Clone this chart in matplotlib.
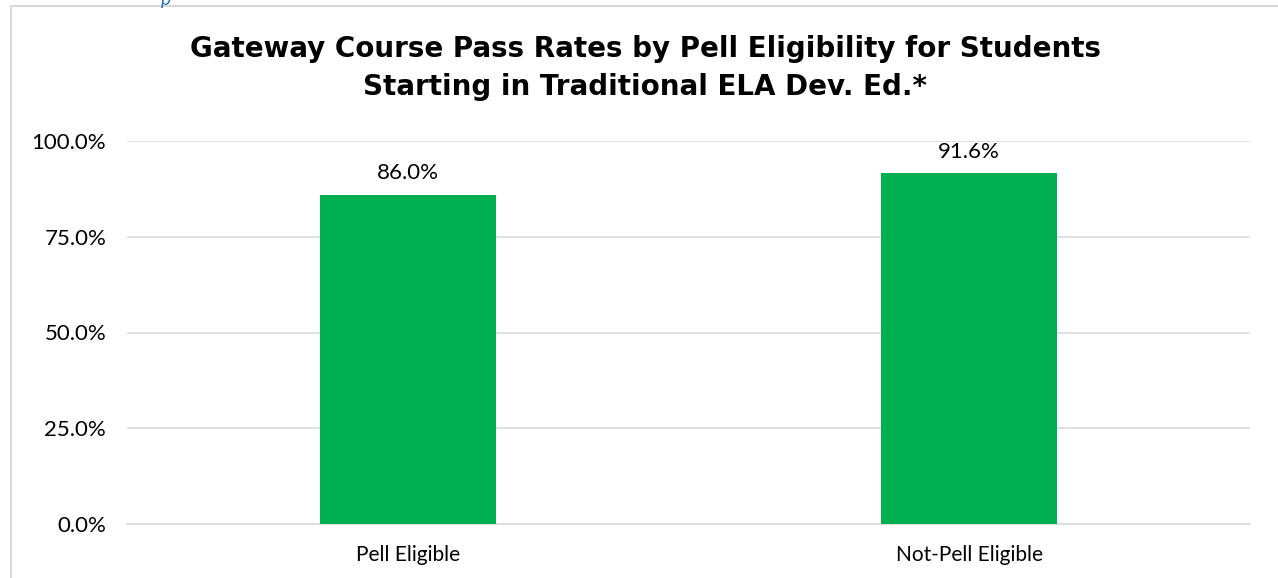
import matplotlib
matplotlib.use('Agg')
import matplotlib.pyplot as plt
from matplotlib.patches import Rectangle

categories = ['Pell Eligible', 'Not-Pell Eligible']
pass_rates = [86.0, 91.6]
y_ticks = [0, 25, 50, 75, 100]
title = 'Gateway Course Pass Rates by Pell Eligibility for Students\nStarting in Traditional ELA Dev. Ed.*'

plt.rcParams['font.family'] = ['Lato', 'DejaVu Sans']

fig = plt.figure(figsize=(12.78, 5.78), dpi=100)
ax = fig.add_axes([127 / 1278, 1 - 524 / 578, 1123 / 1278, 383 / 578])

# chart frame (cut off at right and bottom like the reference)
fig.patches.append(Rectangle((11 / 1278, -0.05), 1.2, 1 - 6 / 578 + 0.05,
                             transform=fig.transFigure, fill=False,
                             edgecolor='#d9d9d9', linewidth=1.5))
fig.text(166 / 1278, 1.0, 'p', color='#2e74b5', fontsize=14, style='italic',
         ha='center', va='center')

x = range(len(categories))
bars = ax.bar(x, pass_rates, width=0.313, color='#00b050', zorder=3)
for b, v in zip(bars, pass_rates):
    ax.text(b.get_x() + b.get_width() / 2, v + 3, f'{v:.1f}%', ha='center',
            va='bottom', fontsize=16, color='#000000')

ax.set_xlim(-0.5, 1.5)
ax.set_ylim(0, 100)
ax.set_yticks(y_ticks)
ax.set_yticklabels([f'{t:.1f}%' for t in y_ticks], fontsize=16)
ax.set_xticks(list(x))
ax.set_xticklabels(categories, fontsize=15)
ax.tick_params(length=0)
ax.tick_params(axis='y', pad=15)
ax.tick_params(axis='x', pad=15)
ax.grid(axis='y', color='#d9d9d9', linewidth=1.2, zorder=0)
for s in ['top', 'right', 'left']:
    ax.spines[s].set_visible(False)
ax.spines['bottom'].set_color('#d9d9d9')
ax.spines['bottom'].set_linewidth(1.2)

fig.text(0.505, 1 - 68 / 578, title, ha='center', va='center', fontsize=20,
         fontweight='bold', family='DejaVu Sans', linespacing=1.45)

fig.savefig('out.png', dpi=100, facecolor='white')
